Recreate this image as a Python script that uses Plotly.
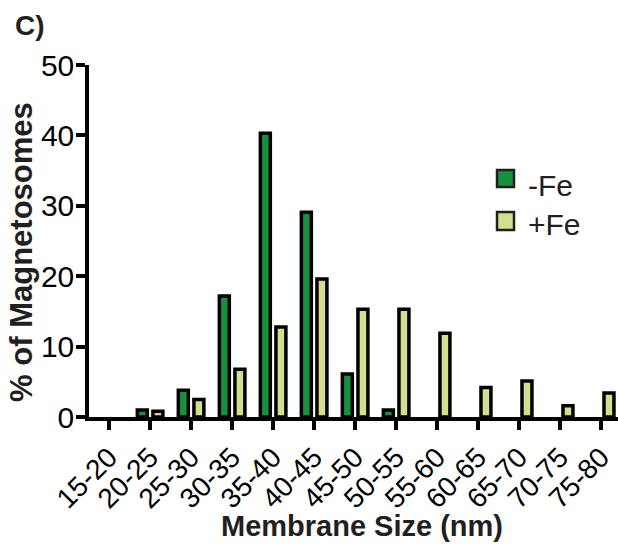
import plotly.graph_objects as go

# Membrane size bins (nm) and percentage of magnetosomes per bin
size_bins = ["15-20", "20-25", "25-30", "30-35", "35-40", "40-45", "45-50",
             "50-55", "55-60", "60-65", "65-70", "70-75", "75-80"]
minus_fe = [None, 1.0, 3.8, 17.2, 40.3, 29.1, 6.1, 1.0, None, None, None, None, None]
plus_fe = [None, 0.8, 2.5, 6.8, 12.8, 19.6, 15.3, 15.3, 11.9, 4.2, 5.1, 1.6, 3.4]

y_ticks = [0, 10, 20, 30, 40, 50]

series_names = ["-Fe", "+Fe"]
series_colors = ["#17913F", "#D0E08E"]

FONT = "Liberation Sans, Arial, Helvetica, sans-serif"
INK = "#231F20"

fig = go.Figure()
for name, vals, col in zip(series_names, [minus_fe, plus_fe], series_colors):
    fig.add_trace(go.Bar(
        x=size_bins, y=vals, name=name,
        marker=dict(color=col, line=dict(color="black", width=3.5)),
        showlegend=False,
    ))

# Legend drawn as boxed swatches with labels
legend_box_y = [(0.6534, 0.7017), (0.531, 0.5824)]
legend_text_y = [0.659, 0.5455]
for name, col, (y0, y1), ty in zip(series_names, series_colors, legend_box_y, legend_text_y):
    fig.add_shape(type="rect", xref="paper", yref="paper",
                  x0=0.7713, x1=0.8034, y0=y0, y1=y1,
                  fillcolor=col, line=dict(color=INK, width=2.5))
    fig.add_annotation(x=0.826, y=ty, xref="paper", yref="paper",
                       text=name, showarrow=False, xanchor="left", yanchor="middle",
                       font=dict(family=FONT, size=30, color=INK))

# Axis titles and panel label
fig.add_annotation(x=0.516, y=-0.31, xref="paper", yref="paper",
                   text="<b>Membrane Size (nm)</b>", showarrow=False,
                   xanchor="center", yanchor="middle",
                   font=dict(family=FONT, size=29, color=INK))
fig.add_annotation(x=-0.1267, y=0.469, xref="paper", yref="paper",
                   text="<b>% of Magnetosomes</b>", showarrow=False, textangle=-90,
                   xanchor="center", yanchor="middle",
                   font=dict(family=FONT, size=31, color=INK))
fig.add_annotation(x=-0.1437, y=1.111, xref="paper", yref="paper",
                   text="<b>C)</b>", showarrow=False,
                   xanchor="left", yanchor="middle",
                   font=dict(family=FONT, size=28, color=INK))

fig.update_layout(
    width=618, height=544,
    margin=dict(l=89, r=0, t=65, b=127),
    paper_bgcolor="white", plot_bgcolor="white",
    barmode="group", bargap=0.24, bargroupgap=0.36,
    font=dict(family=FONT, color="black"),
    xaxis=dict(
        range=[-0.49, 12.41], showgrid=False, zeroline=False,
        showline=True, linecolor="black", linewidth=3.5,
        ticks="outside", ticklen=9, tickwidth=3.5, tickcolor="black",
        tickangle=-45, tickfont=dict(family=FONT, size=28, color="black"),
    ),
    yaxis=dict(
        range=[0, 50], tickvals=y_ticks, showgrid=False, zeroline=False,
        showline=True, linecolor="black", linewidth=3.5,
        ticks="outside", ticklen=9, tickwidth=3.5, tickcolor="black",
        ticklabelstandoff=-4,
        tickfont=dict(family=FONT, size=30, color="black"),
    ),
)

fig.write_html("out.html")
